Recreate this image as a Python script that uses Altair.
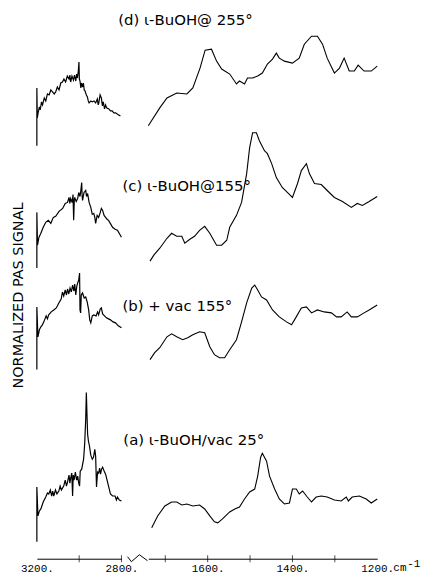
import altair as alt
import pandas as pd

# ---- data: wavenumber (cm-1) vs normalized PAS signal (offset per spectrum) ----
# C-H stretch region (left block)
d_left_wn = [3200, 3200, 3198, 3194, 3188, 3184, 3178, 3173, 3165, 3158, 3150, 3142, 3134, 3126, 3118, 3111, 3103, 3095, 3087, 3079,
             3072, 3064, 3056, 3048, 3044, 3040, 3034, 3027, 3022, 3016, 3012, 3008, 3004, 3001, 2999, 2996, 2992, 2989, 2984, 2980,
             2976, 2972, 2966, 2961, 2957, 2953, 2945, 2938, 2930, 2922, 2914, 2910, 2907, 2901, 2895, 2890, 2886, 2880, 2875, 2870,
             2860, 2852, 2844, 2836, 2828, 2815, 2805]
d_left_sig = [41.5, 47.3, 44.3, 44.8, 45.4, 45.1, 45.9, 45.6, 46.3, 46.0, 46.7, 46.6, 47.1, 46.9, 46.7, 46.9, 47.4, 47.1, 47.8, 47.9,
              48.2, 47.9, 48.5, 48.2, 48.6, 47.9, 48.5, 48.1, 48.6, 48.0, 48.7, 48.3, 49.0, 49.9, 48.2, 48.0, 47.3, 47.8, 47.4, 47.8,
              47.1, 47.0, 46.6, 46.4, 46.0, 45.8, 46.0, 45.9, 46.0, 45.8, 46.2, 45.6, 45.8, 46.6, 46.3, 45.5, 45.9, 45.2, 45.6, 45.3,
              45.2, 45.0, 45.0, 44.8, 44.8, 44.6, 44.5]

c_left_wn = [3200, 3200, 3197, 3190, 3181, 3170, 3158, 3146, 3134, 3122, 3111, 3095, 3078, 3066, 3055, 3048, 3044, 3040, 3033, 3029,
             3026, 3023, 3021, 3014, 3007, 3002, 2996, 2992, 2988, 2986, 2984, 2977, 2969, 2965, 2960, 2953, 2945, 2938, 2931, 2926,
             2922, 2915, 2908, 2900, 2895, 2889, 2882, 2875, 2868, 2861, 2850, 2842, 2830, 2819, 2808, 2800]
c_left_sig = [29.2, 34.8, 31.5, 32.3, 32.7, 33.3, 33.8, 34.0, 33.7, 34.3, 34.4, 34.9, 35.2, 35.7, 35.8, 36.3, 35.7, 36.2, 35.8, 36.6,
              34.0, 36.0, 36.3, 35.9, 36.2, 36.8, 36.4, 37.0, 37.8, 36.5, 36.0, 36.8, 37.0, 36.4, 36.7, 35.8, 35.3, 34.6, 34.7, 34.3,
              33.7, 34.5, 34.3, 34.8, 35.2, 35.0, 34.5, 34.3, 34.1, 34.0, 33.6, 33.3, 33.1, 33.0, 32.6, 32.3]

b_left_wn = [3200, 3200, 3195, 3188, 3181, 3174, 3167, 3156, 3150, 3144, 3132, 3120, 3108, 3096, 3085, 3079, 3073, 3066, 3060, 3055,
             3049, 3043, 3037, 3031, 3025, 3021, 3016, 3011, 3007, 3002, 2998, 2996, 2993, 2990, 2984, 2976, 2969, 2962, 2955, 2950,
             2945, 2938, 2931, 2920, 2913, 2908, 2900, 2895, 2889, 2880, 2871, 2861, 2852, 2840, 2828, 2815, 2800]
b_left_sig = [19, 25.3, 22.3, 23.0, 23.3, 23.5, 23.8, 24.4, 24.1, 24.5, 24.8, 25.0, 25.2, 25.7, 26.1, 26.8, 26.4, 27.0, 26.5, 27.1,
              26.6, 27.2, 26.8, 27.5, 26.9, 27.6, 26.5, 27.4, 27.7, 28.0, 28.7, 25.0, 24.7, 26.5, 26.7, 26.2, 26.3, 25.8, 25.0, 24.0,
              23.7, 24.4, 24.5, 24.4, 24.8, 24.5, 25.1, 25.2, 24.6, 24.4, 24.2, 24.1, 24.0, 23.8, 23.7, 23.4, 23.2]

a_left_wn = [3200, 3200, 3195, 3188, 3181, 3170, 3158, 3150, 3144, 3136, 3130, 3125, 3120, 3112, 3105, 3096, 3090, 3084, 3073, 3066,
             3060, 3054, 3048, 3044, 3040, 3035, 3031, 3028, 3024, 3018, 3012, 3007, 3002, 2998, 2995, 2988, 2979, 2974, 2969, 2966,
             2963, 2960, 2956, 2951, 2945, 2938, 2932, 2926, 2922, 2918, 2913, 2908, 2903, 2899, 2894, 2889, 2882, 2875, 2868, 2861,
             2852, 2842, 2830, 2824, 2819, 2810, 2800]
a_left_sig = [1.7, 7.2, 4.3, 4.8, 5.0, 5.7, 6.2, 6.6, 6.5, 6.9, 6.3, 6.8, 6.3, 6.9, 6.5, 6.8, 7.3, 6.9, 7.3, 7.9,
              7.3, 7.8, 8.4, 7.6, 8.1, 8.6, 6.3, 8.4, 7.9, 8.7, 7.9, 8.3, 7.6, 7.3, 8.8, 9.0, 10.0, 11.5, 14.0, 16.7,
              14.5, 12.5, 11.8, 11.3, 10.4, 10.0, 10.2, 11.0, 10.3, 7.2, 8.7, 8.6, 9.1, 8.5, 9.0, 9.2, 8.8, 8.5, 7.9, 7.3,
              6.5, 6.3, 6.3, 5.9, 6.2, 5.9, 5.8]

# fingerprint region (right block)
d_right_wn = [1740, 1713, 1696, 1673, 1649, 1635, 1618, 1606, 1591, 1579, 1567, 1548, 1532, 1525, 1513, 1506, 1494, 1482, 1471, 1459,
              1447, 1438, 1431, 1419, 1400, 1384, 1372, 1355, 1341, 1329, 1318, 1301, 1289, 1278, 1266, 1254, 1245, 1231, 1214, 1200]
d_right_sig = [43.5, 45.3, 46.3, 46.8, 46.7, 47.3, 49.3, 51.1, 51.2, 50, 49.2, 48.7, 47.7, 48, 47.7, 48.3, 48.3, 48.5, 48.8, 49.7,
               50.2, 50.8, 50.3, 50, 49.8, 50.3, 51.7, 52.5, 52.5, 51.7, 50.3, 48.8, 49.3, 50.3, 49, 49, 49.6, 49, 49, 49.5]

c_right_wn = [1736, 1727, 1713, 1696, 1685, 1673, 1661, 1654, 1642, 1631, 1619, 1607, 1595, 1579, 1567, 1555, 1548, 1532, 1520, 1508,
              1501, 1494, 1485, 1478, 1466, 1459, 1449, 1438, 1424, 1412, 1400, 1388, 1379, 1367, 1360, 1348, 1332, 1318, 1301, 1282,
              1261, 1247, 1235, 1219, 1200]
c_right_sig = [29.9, 30.5, 31.2, 32.2, 32.7, 32.4, 32.4, 31.7, 32.1, 32.4, 33, 33.4, 32.7, 31.5, 31.5, 32, 33.3, 34.5, 35.8, 38.7,
               41.3, 42.8, 42.8, 42, 41, 40.7, 39.7, 38.3, 37.3, 36.8, 36.3, 37.7, 39, 39.7, 38.7, 37.7, 37.6, 37, 36.3, 35.9,
               35.3, 35.7, 35.5, 35.9, 36.4]

b_right_wn = [1736, 1725, 1713, 1696, 1685, 1673, 1659, 1647, 1635, 1619, 1607, 1595, 1584, 1572, 1560, 1548, 1532, 1520, 1508, 1496,
              1489, 1482, 1473, 1461, 1447, 1431, 1414, 1402, 1391, 1379, 1367, 1355, 1341, 1325, 1308, 1296, 1285, 1271, 1261, 1247,
              1231, 1219, 1200]
b_right_sig = [20, 20.7, 21.2, 22.3, 22.6, 22.3, 22, 22.2, 22.5, 22.8, 22.7, 21.3, 20.5, 20.2, 20.2, 21, 22, 23.8, 25.7, 27.2,
               27.5, 27, 26.3, 26, 25, 24.3, 23.8, 23.5, 24.3, 25.2, 25.3, 24.7, 25, 24.8, 24.7, 24.3, 24.3, 24.8, 24.3, 24.3,
               24.7, 25, 25.5]

a_right_wn = [1732, 1718, 1701, 1685, 1673, 1661, 1649, 1635, 1619, 1607, 1595, 1584, 1576, 1565, 1548, 1536, 1525, 1513, 1501, 1489,
              1482, 1475, 1471, 1461, 1454, 1442, 1431, 1419, 1407, 1400, 1391, 1384, 1376, 1365, 1355, 1344, 1332, 1318, 1301, 1285,
              1273, 1268, 1259, 1242, 1226, 1214, 1200]
a_right_sig = [3.1, 4.3, 5.3, 5.7, 5.7, 5.4, 5.5, 5.3, 5.4, 5, 4.3, 3.7, 3.6, 4, 4.7, 5, 5.2, 6, 6.7, 7,
               8.3, 10.2, 10.6, 9.8, 8.3, 7, 6, 5.5, 5.6, 7, 7, 6.5, 6.8, 6.2, 5.7, 6.2, 6.3, 6.2, 5.9, 5.8,
               6.2, 5.8, 6.2, 6.3, 6, 5.6, 6]

# spectrum labels
label_text = ["(d) \u03b9-BuOH@ 255\u00b0", "(c) \u03b9-BuOH@155\u00b0", "(b) + vac 155\u00b0", "(a) \u03b9-BuOH/vac 25\u00b0"]
label_wn = [1811, 1801, 1801, 1799]
label_sig = [54.1, 37.4, 25.4, 11.9]

# axis ticks, break marker, unit
left_tick_wn = [3000, 2800]
right_tick_wn = [1700, 1600, 1500, 1400, 1300]
break_wn = [1789, 1780, 1761, 1742]
break_sig = [0.2, -0.3, 0.4, -0.2]
unit_text = ["cm", "-1"]
unit_wn = [1162, 1129]
unit_sig = [-0.9, -0.5]


def frame(pairs):
    rows = []
    for name, wns, sigs in pairs:
        for i, (w, s) in enumerate(zip(wns, sigs)):
            rows.append({"trace": name, "i": i, "wn": w, "sig": s})
    return pd.DataFrame(rows)


left_df = frame([("d", d_left_wn, d_left_sig), ("c", c_left_wn, c_left_sig),
                 ("b", b_left_wn, b_left_sig), ("a", a_left_wn, a_left_sig)])
right_df = frame([("d", d_right_wn, d_right_sig), ("c", c_right_wn, c_right_sig),
                  ("b", b_right_wn, b_right_sig), ("a", a_right_wn, a_right_sig)])

MONO = "Liberation Mono"
SANS = "DejaVu Sans"
W, H = 342, 550

yscale = alt.Scale(domain=[0, 55], nice=False, zero=False)
yaxis = alt.Axis(title="NORMALIZED PAS SIGNAL", labels=False, ticks=False, domain=False, grid=False,
                 titleFont=SANS, titleFontSize=14.5, titleFontWeight="normal", titleColor="black", titlePadding=11,
                 titleY=285)
Y = alt.Y("sig:Q", scale=yscale, axis=yaxis)

# two broken-axis segments sharing one plot
left_scale = alt.Scale(domain=[2800, 3200], range=[85, 0], nice=False, zero=False)
right_scale = alt.Scale(domain=[1200, 1740], range=[W, 112], nice=False, zero=False)
xaxis_common = dict(orient="bottom", ticks=False, grid=False, domainColor="black", labelFont=MONO, labelFontSize=11,
                    labelColor="black", title=None, labelPadding=4, labelFlush=False, labelOverlap=False)
left_axis = alt.Axis(values=[3200, 3000, 2800], labelExpr="datum.value == 3000 ? '' : datum.value + '.'", **xaxis_common)
right_axis = alt.Axis(values=[1700, 1600, 1500, 1400, 1300, 1200],
                      labelExpr="datum.value % 200 == 0 ? datum.value + '.' : ''", **xaxis_common)
XL = alt.X("wn:Q", scale=left_scale, axis=None)
XR = alt.X("wn:Q", scale=right_scale, axis=None)

left_lines = alt.Chart(left_df).mark_line(color="black", strokeWidth=1.2).encode(
    x=alt.X("wn:Q", scale=left_scale, axis=left_axis), y=Y, detail="trace:N", order="i:Q")
left_ticks = alt.Chart(pd.DataFrame({"wn": left_tick_wn, "sig": [0] * len(left_tick_wn)})).mark_tick(
    orient="vertical", size=7, thickness=1, color="black").encode(x=XL, y=Y)

right_lines = alt.Chart(right_df).mark_line(color="black", strokeWidth=1.1).encode(
    x=alt.X("wn:Q", scale=right_scale, axis=right_axis), y=Y, detail="trace:N", order="i:Q")
right_ticks = alt.Chart(pd.DataFrame({"wn": right_tick_wn, "sig": [0] * len(right_tick_wn)})).mark_tick(
    orient="vertical", size=7, thickness=1, color="black").encode(x=XR, y=Y)
brk = alt.Chart(pd.DataFrame({"wn": break_wn, "sig": break_sig, "i": range(len(break_wn))})).mark_line(
    color="black", strokeWidth=1).encode(x=XR, y=Y, order="i:Q")
labels = alt.Chart(pd.DataFrame({"t": label_text, "wn": label_wn, "sig": label_sig})).mark_text(
    align="left", baseline="middle", font=SANS, fontSize=15, color="black").encode(x=XR, y=Y, text="t:N")
unit = alt.Chart(pd.DataFrame({"t": unit_text, "wn": unit_wn, "sig": unit_sig})).mark_text(
    align="left", baseline="middle", font=MONO, fontSize=11, color="black").encode(x=XR, y=Y, text="t:N")

chart = alt.layer(left_lines, left_ticks, right_lines, right_ticks, brk, labels, unit).resolve_scale(
    x="independent").properties(
    width=W, height=H, padding={"left": 3, "top": 2, "right": 0, "bottom": 0}, background="white"
).configure_view(stroke=None)

chart.save("out.html", embed_options={"renderer": "svg", "actions": False})
